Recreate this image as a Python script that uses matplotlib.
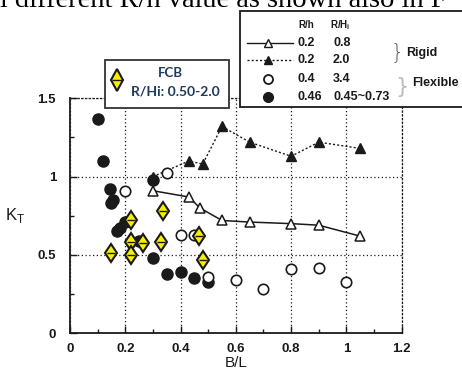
import numpy as np
import matplotlib.pyplot as plt
from matplotlib.patches import Rectangle
from matplotlib.lines import Line2D

# rigid, R/h=0.2, R/Hi=0.8 (open triangles, solid line)
rigid1_x = [0.30, 0.43, 0.47, 0.55, 0.65, 0.80, 0.90, 1.05]
rigid1_y = [0.91, 0.87, 0.80, 0.72, 0.71, 0.70, 0.69, 0.62]
# rigid, R/h=0.2, R/Hi=2.0 (filled triangles, dotted line)
rigid2_x = [0.30, 0.43, 0.48, 0.55, 0.65, 0.80, 0.90, 1.05]
rigid2_y = [1.00, 1.10, 1.08, 1.32, 1.22, 1.13, 1.22, 1.18]
# flexible, R/h=0.4, R/Hi=3.4 (open circles)
flex1_x = [0.20, 0.35, 0.40, 0.45, 0.50, 0.60, 0.70, 0.80, 0.90, 1.00]
flex1_y = [0.91, 1.02, 0.63, 0.63, 0.36, 0.34, 0.28, 0.41, 0.42, 0.33]
# flexible, R/h=0.46, R/Hi=0.45~0.73 (filled circles)
flex2_x = [0.10, 0.12, 0.145, 0.157, 0.15, 0.169, 0.181, 0.199, 0.25, 0.30, 0.30, 0.35, 0.40, 0.45, 0.50]
flex2_y = [1.37, 1.10, 0.92, 0.85, 0.83, 0.65, 0.67, 0.71, 0.59, 0.98, 0.48, 0.38, 0.39, 0.35, 0.33]
# FCB
fcb_x = [0.15, 0.22, 0.22, 0.22, 0.265, 0.33, 0.335, 0.465, 0.48]
fcb_y = [0.51, 0.72, 0.58, 0.50, 0.575, 0.585, 0.78, 0.62, 0.47]

ink = '#1a1a1a'
yel = '#f5f000'
navy = '#1f3a5f'

fig = plt.figure(figsize=(4.62, 3.74), dpi=100)
ax = fig.add_axes([0.1515, 0.1088, 0.718, 0.6284])

ax.plot(rigid2_x, rigid2_y, color=ink, lw=1.0, ls=(0, (1.5, 1.5)), marker='^',
        ms=6.5, mfc=ink, mec=ink, zorder=3)
ax.plot(rigid1_x, rigid1_y, color=ink, lw=1.1, marker='^', ms=6.5,
        mfc='white', mec=ink, mew=1.1, zorder=3)
ax.plot(flex2_x, flex2_y, ls='none', marker='o', ms=8, mfc=ink, mec=ink, zorder=3)
ax.plot(flex1_x, flex1_y, ls='none', marker='o', ms=7.5, mfc='white', mec=ink,
        mew=1.2, zorder=4)
ax.plot(fcb_x, fcb_y, ls='none', marker='d', ms=9.5, mfc=yel, mec=ink, mew=1.5, zorder=5)
ax.plot(fcb_x, fcb_y, ls='none', marker='_', ms=6, mec=ink, mew=1.0, zorder=6)

ax.set_xlim(0, 1.2)
ax.set_ylim(0, 1.5)
ax.set_xticks([0, 0.2, 0.4, 0.6, 0.8, 1.0, 1.2])
ax.set_xticklabels(['0', '0.2', '0.4', '0.6', '0.8', '1', '1.2'])
ax.set_yticks([0, 0.5, 1.0, 1.5])
ax.set_yticklabels(['0', '0.5', '1', '1.5'])
ax.set_xticks(np.arange(0.1, 1.2, 0.2), minor=True)
ax.set_yticks([0.25, 0.75, 1.25], minor=True)
ax.tick_params(which='both', direction='in', color=ink, width=1.0,
               labelsize=9.5, labelcolor=ink)
ax.tick_params(axis='x', pad=7)
ax.tick_params(axis='y', pad=10)
ax.tick_params(which='major', length=5)
ax.tick_params(which='minor', length=3)
ax.tick_params(top=False, right=False)
for lab in ax.get_xticklabels() + ax.get_yticklabels():
    lab.set_fontweight('bold')
    lab.set_family('Liberation Sans')

ax.grid(True, which='major', color=ink, lw=0.9, ls=(0, (1, 2)))
for s in ['left', 'bottom']:
    ax.spines[s].set_color(ink)
    ax.spines[s].set_linewidth(1.3)
for s in ['top', 'right']:
    ax.spines[s].set_color(ink)
    ax.spines[s].set_linewidth(0.9)
    ax.spines[s].set_linestyle((0, (1, 2)))

ax.set_xlabel('B/L', fontsize=11, family='Liberation Sans', color=ink, labelpad=1)
ax.set_ylabel('K$_\\mathregular{T}$', fontsize=12, family='Liberation Sans', color=ink,
              rotation=0, labelpad=16, va='center')

# partial caption line at top
fig.text(0.0, 0.981, 'l different R/h value as shown also in F', fontsize=20.5,
         family='Liberation Serif', color='black', va='baseline', ha='left')

# big legend box (figure pixels)
W, H = 462, 374
def fx(p):
    return p / W
def fy(p):
    return 1 - p / H

fig.add_artist(Rectangle((fx(240), fy(107)), fx(240), (107 - 11) / H, transform=fig.transFigure,
                         fc='white', ec=ink, lw=1.3, zorder=10))
tkw = dict(family='Liberation Sans', fontweight='bold', color=ink, va='center', zorder=11)
fig.text(fx(298), fy(25), 'R/h', fontsize=7, **tkw)
fig.text(fx(330), fy(25), 'R/H$_\\mathregular{i}$', fontsize=7, **tkw)
rows_y = [42.5, 60, 79, 96.5]
col1 = ['0.2', '0.2', '0.4', '0.46']
col2 = ['0.8', '2.0', '3.4', '0.45~0.73']
for yy, a, b in zip(rows_y, col1, col2):
    fig.text(fx(298), fy(yy), a, fontsize=9, **tkw)
    fig.text(fx(333), fy(yy), b, fontsize=9, **tkw)
fig.add_artist(Line2D([fx(247), fx(293)], [fy(42.5)] * 2, transform=fig.transFigure,
                      color=ink, lw=1.0, zorder=11))
fig.add_artist(Line2D([fx(268)], [fy(42.5)], transform=fig.transFigure, marker='^', ms=6,
                      mfc='white', mec=ink, zorder=12))
fig.add_artist(Line2D([fx(247), fx(293)], [fy(60)] * 2, transform=fig.transFigure,
                      color=ink, lw=1.0, ls=(0, (1.5, 1.5)), zorder=11))
fig.add_artist(Line2D([fx(268)], [fy(60)], transform=fig.transFigure, marker='^', ms=6,
                      mfc=ink, mec=ink, zorder=12))
fig.add_artist(Line2D([fx(268)], [fy(79)], transform=fig.transFigure, marker='o', ms=6.5,
                      mfc='white', mec=ink, mew=1.3, zorder=12))
fig.add_artist(Line2D([fx(268)], [fy(96.5)], transform=fig.transFigure, marker='o', ms=7,
                      mfc=ink, mec=ink, zorder=12))
fig.text(fx(391), fy(52), '}', fontsize=15, family='DejaVu Sans', color='#555555',
         fontweight='light', va='center', zorder=11)
fig.text(fx(406), fy(53), 'Rigid', fontsize=9, **tkw)
fig.text(fx(395), fy(87), '}', fontsize=15, family='DejaVu Sans', color='#bbbbbb',
         va='center', zorder=11)
fig.text(fx(412), fy(83), 'Flexible', fontsize=9, **tkw)

# FCB box
fig.add_artist(Rectangle((fx(105), fy(108)), (229 - 105) / W, (108 - 60) / H,
                         transform=fig.transFigure, fc='white', ec='#333333', lw=1.3, zorder=10))
fig.add_artist(Line2D([fx(117)], [fy(80)], transform=fig.transFigure, marker='d', ms=11,
                      mfc=yel, mec=ink, mew=1.5, zorder=12))
fig.add_artist(Line2D([fx(117)], [fy(80)], transform=fig.transFigure, marker='_', ms=7,
                      mec=ink, mew=1.0, zorder=13))
fig.text(fx(170), fy(73), 'FCB', fontsize=9.5, family='Lato', fontweight='bold',
         color=navy, ha='center', va='center', zorder=12)
fig.text(fx(175), fy(91), 'R/Hi: 0.50-2.0', fontsize=10, family='Lato', fontweight='bold',
         color=navy, ha='center', va='center', zorder=12)

fig.savefig('out.png', dpi=100)
